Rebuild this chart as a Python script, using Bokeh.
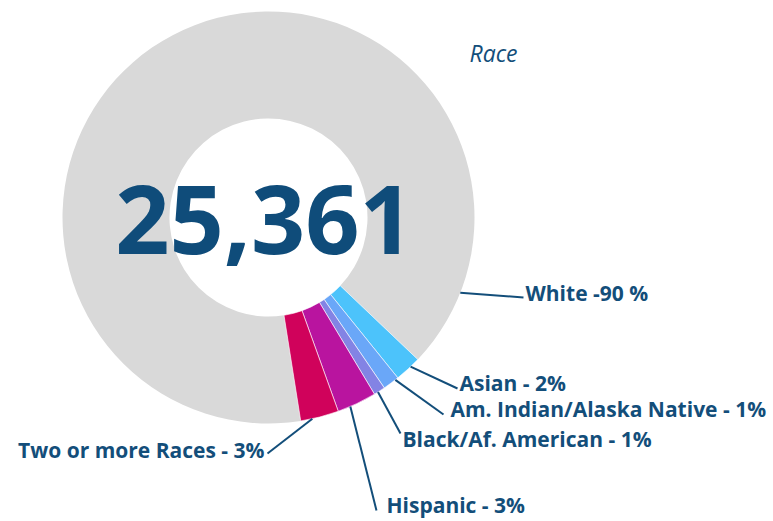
import numpy as np
from bokeh.plotting import figure
from bokeh.models import Range1d
from bokeh.embed import file_html
from bokeh.resources import INLINE
from bokeh.core.properties import value

# ---- data ----
categories = ["White", "Asian", "Am. Indian/Alaska Native", "Black/Af. American",
              "Hispanic", "Two or more Races"]
shares = [89.6, 2.1, 1.3, 0.9, 3.1, 3.0]
labels = ["White -90 %", "Asian - 2%", "Am. Indian/Alaska Native - 1%",
          "Black/Af. American - 1%", "Hispanic - 3%", "Two or more Races - 3%"]
total = 25361
title = "Race"

# ---- styles / layout ----
colors = ["#d9d9d9", "#4cc3fb", "#6aa7f8", "#8383e4", "#b9149f", "#d0025b"]
text_color = "#134e7a"
W, H = 773, 521


def sy(screen_y):
    return H - screen_y


p = figure(width=W, height=H, x_range=Range1d(0, W), y_range=Range1d(0, H),
           output_backend="svg", toolbar_location=None, min_border=0)
p.axis.visible = False
p.grid.visible = False
p.outline_line_color = None
p.background_fill_color = "white"

cx, cy = 268, sy(217)
r_in, r_out = 99, 206
start0 = np.radians(-81)

fr = np.array(shares) / np.sum(shares)
cum = np.concatenate([[0.0], np.cumsum(fr)[:-1]])
starts = start0 - cum * 2 * np.pi
ends = starts - fr * 2 * np.pi

line_cols = [None] + ["white"] * (len(shares) - 1)
p.annular_wedge(x=cx, y=cy, inner_radius=r_in, outer_radius=r_out,
                start_angle=starts, end_angle=ends, direction="clock",
                fill_color=colors, line_color=line_cols, line_width=0.6)

# connectors and labels (layout)
conn_angles = [21.4, 46.4, 52.0, 57.9, 66.6, 77.7]          # degrees below horizontal
conn_end_x = [523, 457, 443, 400, 376, 267]
conn_end_y = [297, 388, 414, 433, 510, 453]
lab_x = [525, 459, 450, 402, 386, 264]
lab_base = [301, 391, 417, 447, 513, 458]
lab_align = ["left", "left", "left", "left", "left", "right"]
lab_size = 21
num_size = 95
title_size = 23
shift = 0.4   # em: renderer places alphabetic baseline this much lower

a = np.radians(conn_angles)
x0 = cx + r_out * np.cos(a)
y0 = cy - r_out * np.sin(a)
p.segment(x0=x0, y0=y0, x1=conn_end_x, y1=[sy(v) for v in conn_end_y],
          line_color=text_color, line_width=2)

p.text(x=lab_x, y=[sy(v - shift * lab_size) for v in lab_base], text=labels,
       text_align=lab_align, text_baseline="alphabetic", text_font=value("Open Sans"),
       text_font_style="bold", text_font_size=f"{lab_size}px", text_color=text_color)

p.text(x=[264], y=[sy(257 - shift * num_size)], text=[f"{total:,}"], text_align="center",
       text_baseline="alphabetic", text_font=value("Open Sans"), text_font_style="bold",
       text_font_size=f"{num_size}px", text_color="#0f4c7a")

p.text(x=[469], y=[sy(62 - shift * title_size)], text=[title], text_align="left",
       text_baseline="alphabetic", text_font=value("Open Sans"), text_font_style="italic",
       text_font_size=f"{title_size}px", text_color=text_color)

open("out.html", "w").write(file_html(p, INLINE))
